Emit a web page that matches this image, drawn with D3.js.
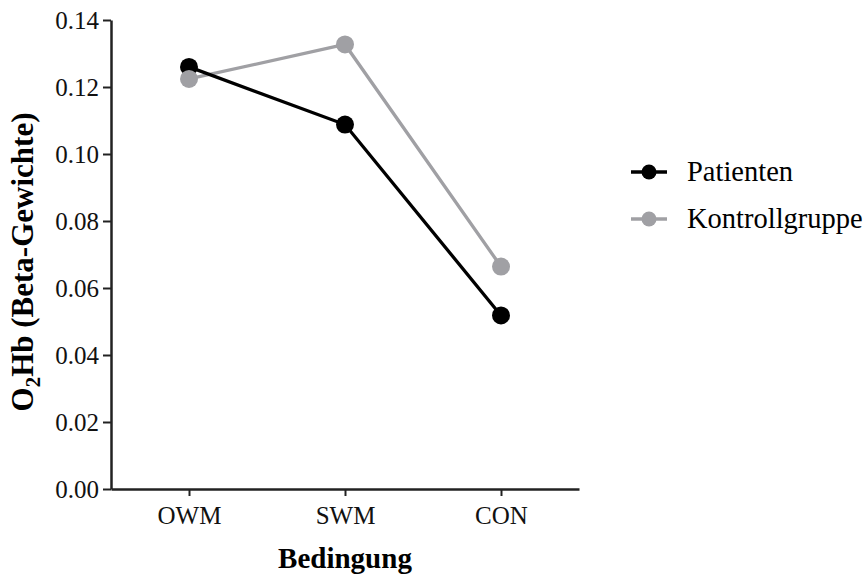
<!DOCTYPE html>
<html>
<head>
<meta charset="utf-8">
<script src="https://cdn.jsdelivr.net/npm/d3@7"></script>
<style>
  body { margin: 0; background: #fff; }
  svg text { font-family: "Liberation Serif", "Times New Roman", serif; }
</style>
</head>
<body>
<div id="chart"></div>
<script>
// chart data
const categories = ["OWM", "SWM", "CON"];
const patienten = [0.126, 0.1088, 0.0518];
const kontrolle = [0.1224, 0.1327, 0.0664];
const yTicks = [0.00, 0.02, 0.04, 0.06, 0.08, 0.10, 0.12, 0.14];
const seriesNames = ["Patienten", "Kontrollgruppe"];
const seriesColors = ["#000000", "#a0a0a4"];

const width = 867, height = 575;

const svg = d3.select("#chart")
    .append("svg")
    .attr("width", width)
    .attr("height", height);

const x = d3.scalePoint()
    .domain(categories)
    .range([111, 579])
    .padding(0.5);

const y = d3.scaleLinear()
    .domain([0, 0.14])
    .range([489, 20]);

// y axis
const yAxis = svg.append("g")
    .attr("transform", "translate(111,0)")
    .call(d3.axisLeft(y).tickValues(yTicks).tickFormat(d3.format(".2f")).tickSizeInner(8).tickSizeOuter(0).tickPadding(4));
yAxis.selectAll(".tick text").attr("font-size", 25);

// x axis
const xAxis = svg.append("g")
    .attr("transform", "translate(0,489)")
    .call(d3.axisBottom(x).tickSizeInner(7).tickSizeOuter(0).tickPadding(10));
xAxis.selectAll(".tick text").attr("font-size", 25);

[yAxis, xAxis].forEach(function(g) {
    g.select(".domain").attr("stroke", "#222").attr("stroke-width", 2.5);
    g.selectAll(".tick line").attr("stroke", "#222").attr("stroke-width", 2);
    g.selectAll(".tick text").attr("fill", "#111")
        .style("font-family", "Liberation Serif, serif");
});

// axis titles
svg.append("text")
    .attr("x", 345)
    .attr("y", 568)
    .attr("text-anchor", "middle")
    .attr("font-size", 29)
    .attr("font-weight", "bold")
    .text("Bedingung");

const yt = svg.append("text")
    .attr("transform", "translate(33,262) rotate(-90)")
    .attr("text-anchor", "middle")
    .attr("font-size", 31)
    .attr("font-weight", "bold");
yt.append("tspan").text("O");
yt.append("tspan").attr("font-size", 21).attr("dy", 7).text("2");
yt.append("tspan").attr("dy", -7).text("Hb (Beta-Gewichte)");

// lines
const line = d3.line()
    .x(function(d, i) { return x(categories[i]); })
    .y(function(d) { return y(d); });

[kontrolle, patienten].forEach(function(vals, k) {
    svg.append("path")
        .datum(vals)
        .attr("d", line)
        .attr("fill", "none")
        .attr("stroke", seriesColors[1 - k])
        .attr("stroke-width", 3.3);
});

// dots: kontroll on top (gray covers black at OWM)
[patienten, kontrolle].forEach(function(vals, k) {
    svg.append("g").selectAll("circle")
        .data(vals)
        .enter()
        .append("circle")
        .attr("cx", function(d, i) { return x(categories[i]); })
        .attr("cy", function(d) { return y(d); })
        .attr("r", 9)
        .attr("fill", seriesColors[k]);
});

// legend
const legend = svg.append("g");
seriesNames.forEach(function(name, i) {
    const ly = 172 + i * 47;
    legend.append("line")
        .attr("x1", 631).attr("x2", 667)
        .attr("y1", ly).attr("y2", ly)
        .attr("stroke", seriesColors[i])
        .attr("stroke-width", 3.5);
    legend.append("circle")
        .attr("cx", 649).attr("cy", ly).attr("r", 7.5)
        .attr("fill", seriesColors[i]);
    legend.append("text")
        .attr("x", 687).attr("y", ly + 9)
        .attr("font-size", 28.5)
        .text(name);
});
</script>
</body>
</html>
